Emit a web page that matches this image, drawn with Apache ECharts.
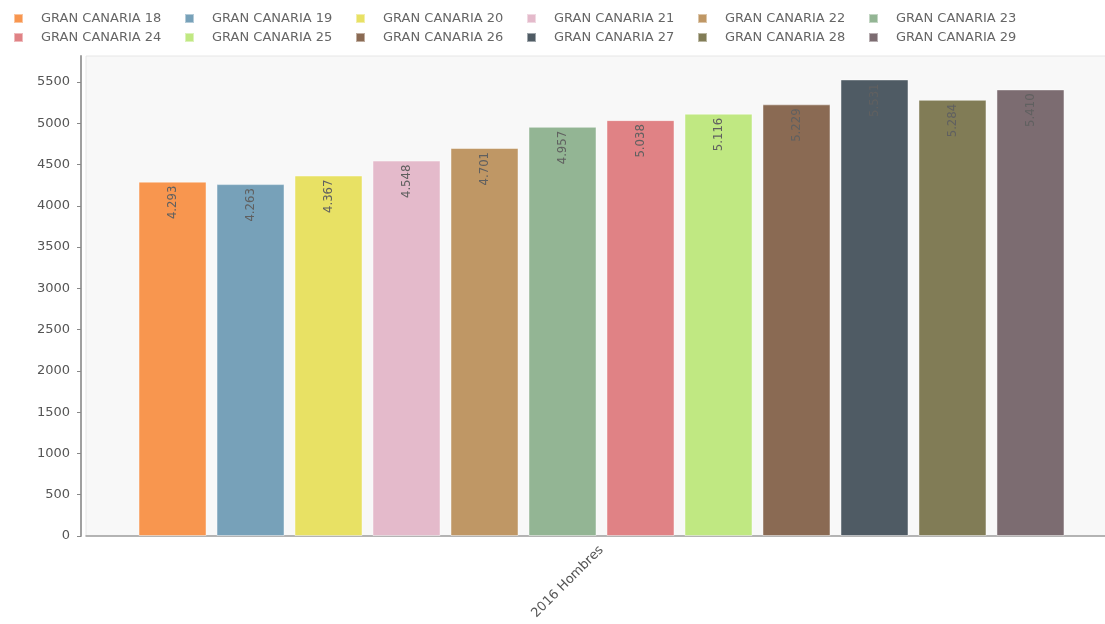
<!DOCTYPE html>
<html>
<head>
<meta charset="utf-8">
<script src="https://cdn.jsdelivr.net/npm/echarts@6/dist/echarts.min.js"></script>
<style>html,body{margin:0;padding:0;background:#fff}#c{width:1105px;height:624px}</style>
</head>
<body>
<div id="c"></div>
<script>
const categories = ['2016 Hombres'];
const seriesNames = ['GRAN CANARIA 18','GRAN CANARIA 19','GRAN CANARIA 20','GRAN CANARIA 21','GRAN CANARIA 22','GRAN CANARIA 23','GRAN CANARIA 24','GRAN CANARIA 25','GRAN CANARIA 26','GRAN CANARIA 27','GRAN CANARIA 28','GRAN CANARIA 29'];
const seriesValues = [4293, 4263, 4367, 4548, 4701, 4957, 5038, 5116, 5229, 5531, 5284, 5410];
const seriesColors = ['#F8964F','#77A1B9','#E8E164','#E4BACB','#BF9765','#93B594','#E08285','#C0E882','#8A6A53','#4F5B64','#817C56','#7C6C71'];
const yTicks = [0,500,1000,1500,2000,2500,3000,3500,4000,4500,5000,5500];

const fmt = v => String(v).replace(/\B(?=(\d{3})+(?!\d))/g, '.');

const chart = echarts.init(document.getElementById('c'));
chart.setOption({
  animation: false,
  backgroundColor: '#ffffff',
  color: seriesColors,
  legend: {
    left: 13, top: 11, width: 1090, padding: 0,
    itemWidth: 9, itemHeight: 9, itemGap: 4,
    icon: 'rect',
    textStyle: { color: '#666', fontFamily: 'DejaVu Sans', fontSize: 13, width: 139, lineHeight: 15, padding: [0,0,0,13] }
  },
  grid: {
    left: 86, top: 56, width: 1031, bottom: 88,
    outerBoundsMode: 'none', containLabel: false,
    show: true, backgroundColor: '#f8f8f8', borderColor: '#e6e6e6', borderWidth: 1
  },
  xAxis: {
    type: 'category', data: categories, offset: 4,
    axisLine: { lineStyle: { color: '#a0a0a0', width: 1.5 } },
    axisTick: { alignWithLabel: true, length: 4, lineStyle: { color: '#888' } },
    axisLabel: { rotate: 45, color: '#555', fontFamily: 'DejaVu Sans', fontSize: 13, margin: 8 },
    splitLine: { show: false }
  },
  yAxis: {
    type: 'value', min: 0, max: 5815, offset: 5,
    axisLine: { show: true, lineStyle: { color: '#a0a0a0', width: 2 } },
    axisTick: { show: true, length: 4, customValues: yTicks, lineStyle: { color: '#888' } },
    axisLabel: { color: '#555', fontFamily: 'DejaVu Sans', fontSize: 13, margin: 11, customValues: yTicks, formatter: v => String(v) },
    splitLine: { show: false }
  },
  series: seriesNames.map((name, i) => ({
    name: name,
    type: 'bar',
    data: [seriesValues[i]],
    barWidth: 68,
    barGap: '14.7%',
    itemStyle: { color: seriesColors[i], borderColor: 'rgba(255,255,255,0.45)', borderWidth: 1 },
    label: {
      show: true, position: 'insideTop', rotate: 90, align: 'right', verticalAlign: 'middle', distance: 4,
      color: '#606060', fontFamily: 'DejaVu Sans Condensed', fontSize: 13,
      formatter: p => fmt(p.value)
    }
  }))
});
</script>
</body>
</html>
